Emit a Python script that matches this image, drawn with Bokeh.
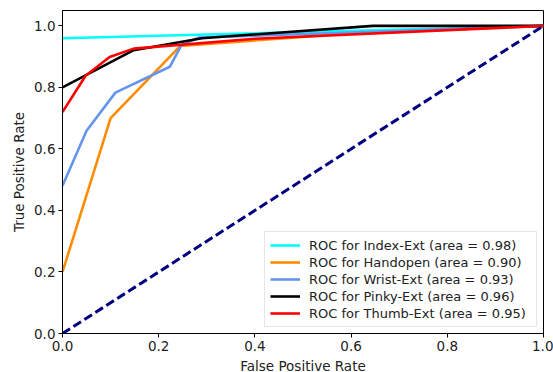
from bokeh.plotting import figure
from bokeh.models import Legend, LegendItem, Range1d, FixedTicker
from bokeh.embed import file_html
from bokeh.resources import INLINE

# ROC data
index_fpr = [0.0, 0.3, 1.0]
index_tpr = [0.96, 0.972, 1.0]
hand_fpr = [0.0, 0.05, 0.1, 0.245, 0.6, 1.0]
hand_tpr = [0.2, 0.45, 0.70, 0.935, 0.975, 1.0]
wrist_fpr = [0.0, 0.05, 0.11, 0.223, 0.247, 0.283, 1.0]
wrist_tpr = [0.48, 0.659, 0.783, 0.867, 0.937, 0.962, 1.0]
pinky_fpr = [0.0, 0.148, 0.29, 0.645, 1.0]
pinky_tpr = [0.80, 0.921, 0.96, 1.0, 1.0]
thumb_fpr = [0.0, 0.048, 0.098, 0.148, 0.4, 1.0]
thumb_tpr = [0.72, 0.838, 0.899, 0.926, 0.958, 1.0]
diag = [0.0, 1.0]

names = ["Index-Ext", "Handopen", "Wrist-Ext", "Pinky-Ext", "Thumb-Ext"]
areas = [0.98, 0.90, 0.93, 0.96, 0.95]
colors = ["aqua", "darkorange", "cornflowerblue", "black", "red"]
ticks = [0.0, 0.2, 0.4, 0.6, 0.8, 1.0]

FONT = "DejaVu Sans"

p = figure(frame_width=481, frame_height=323, output_backend="svg",
           toolbar_location=None, x_range=Range1d(0, 1), y_range=Range1d(0, 1.05),
           min_border_left=62, min_border_top=10, min_border_right=10, min_border_bottom=30)
p.xgrid.visible = False
p.ygrid.visible = False
p.outline_line_color = "black"
p.outline_line_width = 1
p.outline_line_alpha = 1

series = [(index_fpr, index_tpr), (hand_fpr, hand_tpr), (wrist_fpr, wrist_tpr),
          (pinky_fpr, pinky_tpr), (thumb_fpr, thumb_tpr)]
items = []
for (fx, ty), name, area, c in zip(series, names, areas, colors):
    r = p.line(fx, ty, line_color=c, line_width=2.6)
    items.append(LegendItem(label=f"ROC for {name} (area = {area:.2f})", renderers=[r]))

p.line(diag, diag, line_color="navy", line_width=3, line_dash="9 4")

for ax in (p.xaxis[0], p.yaxis[0]):
    ax.ticker = FixedTicker(ticks=ticks)
    ax.major_label_overrides = {t: f"{t:.1f}" for t in ticks}
    ax.minor_tick_line_color = None
    ax.major_tick_out = 4
    ax.major_tick_in = 0
    ax.axis_line_color = "black"
    ax.major_tick_line_color = "black"
    ax.major_label_text_font = FONT
    ax.major_label_text_font_size = "13.5px"
    ax.major_label_text_color = "#222222"
    ax.axis_label_text_font = FONT
    ax.axis_label_text_font_size = "13.5px"
    ax.axis_label_text_font_style = "normal"
    ax.axis_label_text_color = "#222222"
    ax.major_label_standoff = 3
    ax.axis_label_standoff = 4

p.xaxis.axis_label = "False Positive Rate"
p.yaxis.axis_label = "True Positive Rate"

legend = Legend(items=items, location="bottom_right")
legend.label_text_font = FONT
legend.label_text_font_size = "13px"
legend.label_text_color = "#222222"
legend.glyph_width = 30
legend.glyph_height = 16
legend.label_height = 16
legend.label_width = 222
legend.spacing = 1
legend.padding = 5
legend.margin = 6
legend.label_standoff = 9
legend.border_line_color = "#cccccc"
legend.border_line_width = 1
legend.background_fill_alpha = 0.8
p.add_layout(legend)

open("out.html", "w").write(file_html(p, INLINE))
